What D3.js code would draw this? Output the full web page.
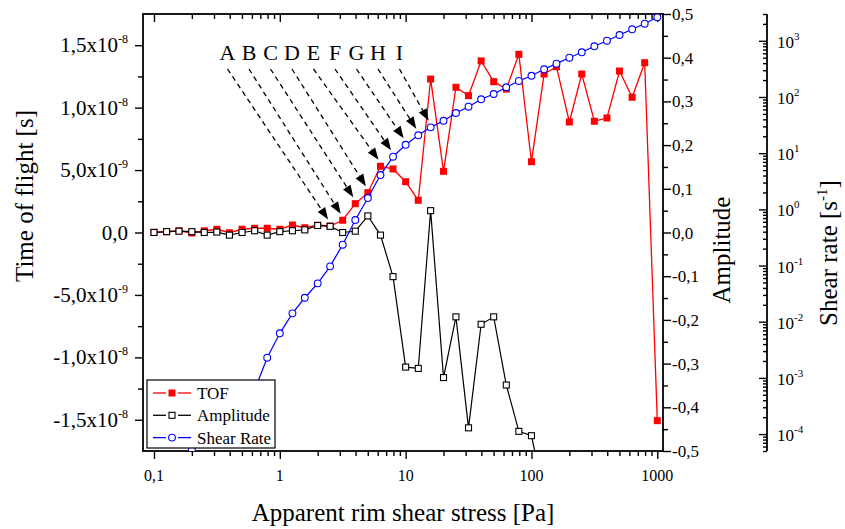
<!DOCTYPE html>
<html><head><meta charset="utf-8">
<script src="https://cdn.jsdelivr.net/npm/d3@7"></script>
<style>
body{margin:0;background:#fff}
svg{display:block}
svg text{font-family:"Liberation Serif","Times New Roman",Times,serif;fill:#000}
</style>
</head><body>
<svg id="chart" width="845" height="529" font-family="Liberation Serif, Times New Roman, serif"></svg>
<script>
// ---------------- data ----------------
const stress = [0.1,0.126,0.158,0.2,0.251,0.316,0.398,0.501,0.631,0.794,
  1,1.26,1.58,2,2.51,3.16,3.98,5.01,6.31,7.94,
  10,12.6,15.8,20,25.1,31.6,39.8,50.1,63.1,79.4,
  100,126,158,200,251,316,398,501,631,794,1000];
// time of flight in ns
const tofNs = [0.02,0.06,0.14,-0.04,0.14,0.26,-0.02,0.26,0.34,0.34,
  0.26,0.60,0.38,0.58,0.52,0.98,2.31,3.19,5.30,5.09,
  4.07,2.58,12.29,4.90,11.63,10.96,13.74,12.08,11.49,14.27,
  5.67,12.69,13.28,8.85,12.69,8.91,9.17,12.93,10.83,13.60,-15.07];
const amplitude = [0.000,0.002,0.003,0.002,0.000,0.001,-0.006,0.000,0.004,-0.006,
  0.002,0.004,0.006,0.016,0.014,0.000,0.003,0.038,-0.006,-0.101,
  -0.308,-0.311,0.050,-0.332,-0.193,-0.447,-0.210,-0.193,-0.349,-0.455,
  -0.465,-0.60];
const shearRate = [null,null,null,5.2e-5,7.8e-5,1.28e-4,2.10e-4,3.57e-4,6.08e-4,2.29e-3,
  6.22e-3,0.0141,0.0267,0.0482,0.0968,0.235,0.646,1.59,4.08,8.65,
  14.1,20.8,28.8,37.8,51.9,67.1,91.0,113,149,193,
  239,311,392,500,624,798,1005,1268,1603,2014,2618];

const xTickValues = [0.1,1,10,100,1000];
const xTickLabels = ["0,1","1","10","100","1000"];
const tofTicks = [-1.5e-8,-1.0e-8,-5e-9,0,5e-9,1.0e-8,1.5e-8];
const tofMinor = [-1.25e-8,-7.5e-9,-2.5e-9,2.5e-9,7.5e-9,1.25e-8];
const ampTicks = [-0.5,-0.4,-0.3,-0.2,-0.1,0,0.1,0.2,0.3,0.4,0.5];
const ampMinor = [-0.45,-0.35,-0.25,-0.15,-0.05,0.05,0.15,0.25,0.35,0.45];
const shearTicks = [1e-4,1e-3,1e-2,1e-1,1,10,100,1000];
const shearExp = ["-4","-3","-2","-1","0","1","2","3"];

const arrowLabels = ["A","B","C","D","E","F","G","H","I"];
const arrowTargetIdx = [14,15,16,17,18,19,20,21,22];
const arrowTargetSeries = ["tof","tof","tof","tof","tof","shear","shear","shear","shear"];

const legendNames = ["TOF","Amplitude","Shear Rate"];

// ---------------- layout ----------------
const FONT = "Liberation Serif, Times New Roman, serif";
const M = {left:143, right:663, top:14, bottom:451};
const shearAxisX = 767;
const RED = "#ff0000", BLUE = "#0000ff", BLACK = "#000";

const svg = d3.select("#chart");
const x = d3.scaleLog().domain([0.0818,1110]).range([M.left,M.right]);
const yT = d3.scaleLinear().domain([-1.75e-8,1.75e-8]).range([M.bottom,M.top]);
const yA = d3.scaleLinear().domain([-0.5,0.5]).range([M.bottom,M.top]);
const yS = d3.scaleLog().domain([5e-5,3000]).range([M.bottom,M.top]);

// minor ticks for log axes
const xMinor = [];
[0.1,1,10,100].forEach(d=>{for(let k=2;k<=9;k++) xMinor.push(d*k);});
const sMinor = [];
[1e-5,1e-4,1e-3,1e-2,1e-1,1,10,100,1000].forEach(d=>{for(let k=2;k<=9;k++){const v=d*k; if(v>=yS.domain()[0]&&v<=yS.domain()[1]) sMinor.push(v);}});

function styleAxis(g){
  g.select(".domain").remove();
  g.selectAll(".tick line").attr("stroke","#000").attr("stroke-width",1.4);
  g.selectAll(".tick text").remove();
}

// bottom axis
svg.append("g").attr("transform",`translate(0,${M.bottom})`)
  .call(d3.axisBottom(x).tickValues(xTickValues).tickSize(8)).call(styleAxis);
svg.append("g").attr("transform",`translate(0,${M.bottom})`)
  .call(d3.axisBottom(x).tickValues(xMinor).tickSize(5)).call(styleAxis);
// top axis (inward)
svg.append("g").attr("transform",`translate(0,${M.top})`)
  .call(d3.axisTop(x).tickValues(xTickValues).tickSize(-8)).call(styleAxis);
svg.append("g").attr("transform",`translate(0,${M.top})`)
  .call(d3.axisTop(x).tickValues(xMinor).tickSize(-5)).call(styleAxis);
// left axis
svg.append("g").attr("transform",`translate(${M.left},0)`)
  .call(d3.axisLeft(yT).tickValues(tofTicks).tickSize(8)).call(styleAxis);
svg.append("g").attr("transform",`translate(${M.left},0)`)
  .call(d3.axisLeft(yT).tickValues(tofMinor).tickSize(5)).call(styleAxis);
// right amplitude axis
svg.append("g").attr("transform",`translate(${M.right},0)`)
  .call(d3.axisRight(yA).tickValues(ampTicks).tickSize(8)).call(styleAxis);
svg.append("g").attr("transform",`translate(${M.right},0)`)
  .call(d3.axisRight(yA).tickValues(ampMinor).tickSize(5)).call(styleAxis);
// shear rate axis
svg.append("g").attr("transform",`translate(${shearAxisX},0)`)
  .call(d3.axisLeft(yS).tickValues(shearTicks).tickSize(8)).call(styleAxis);
svg.append("g").attr("transform",`translate(${shearAxisX},0)`)
  .call(d3.axisLeft(yS).tickValues(sMinor).tickSize(4)).call(styleAxis);
svg.append("line").attr("x1",shearAxisX).attr("x2",shearAxisX)
  .attr("y1",M.top).attr("y2",M.bottom).attr("stroke","#000").attr("stroke-width",1.8);

// frame
svg.append("rect").attr("x",M.left).attr("y",M.top)
  .attr("width",M.right-M.left).attr("height",M.bottom-M.top)
  .attr("fill","none").attr("stroke","#000").attr("stroke-width",1.8);

// tick labels
svg.append("g").selectAll("text").data(xTickValues).join("text")
  .attr("font-family",FONT)
  .attr("x",d=>x(d)).attr("y",M.bottom+30).attr("text-anchor","middle")
  .attr("font-size",16).text((d,i)=>xTickLabels[i]);

const tofLab = svg.append("g").selectAll("text").data(tofTicks).join("text")
  .attr("font-family",FONT)
  .attr("x",M.left-15).attr("y",d=>yT(d)+7).attr("text-anchor","end").attr("font-size",21);
tofLab.each(function(d){
  const t = d3.select(this);
  if(d===0){t.text("0,0");return;}
  const e = Math.floor(Math.log10(Math.abs(d))+1e-9);
  const m = Math.abs(d)/Math.pow(10,e);
  t.append("tspan").text((d<0?"-":"")+m.toFixed(1).replace(".",",")+"x10");
  t.append("tspan").attr("dy",-9).attr("font-size",12).text(String(e));
});

svg.append("g").selectAll("text").data(ampTicks).join("text")
  .attr("font-family",FONT)
  .attr("x",M.right+9).attr("y",d=>yA(d)+6).attr("font-size",17)
  .text(d=>(d<-1e-9?"-":"")+Math.abs(d).toFixed(1).replace(".",","));

const sLab = svg.append("g").selectAll("text").data(shearTicks).join("text")
  .attr("font-family",FONT)
  .attr("x",shearAxisX+10).attr("y",d=>yS(d)+7).attr("font-size",17);
sLab.append("tspan").text("10");
sLab.append("tspan").attr("dy",-8).attr("font-size",11).text((d,i)=>shearExp[i]);

// axis titles
svg.append("text").attr("font-family",FONT).attr("x",(M.left+M.right)/2).attr("y",521).attr("text-anchor","middle")
  .attr("font-size",25).text("Apparent rim shear stress [Pa]");
svg.append("text").attr("font-family",FONT).attr("transform","translate(33,196) rotate(-90)").attr("text-anchor","middle")
  .attr("font-size",25).text("Time of flight [s]");
svg.append("text").attr("font-family",FONT).attr("transform","translate(730,250) rotate(-90)").attr("text-anchor","middle")
  .attr("font-size",25).text("Amplitude");
const st = svg.append("text").attr("font-family",FONT).attr("transform","translate(837,253) rotate(-90)").attr("text-anchor","middle")
  .attr("font-size",25);
st.append("tspan").text("Shear rate [s");
st.append("tspan").attr("dy",-10).attr("font-size",15).text("-1");
st.append("tspan").attr("dy",10).text("]");

// ---------------- series ----------------
svg.append("clipPath").attr("id","plotclip").append("rect")
  .attr("x",M.left).attr("y",M.top).attr("width",M.right-M.left).attr("height",M.bottom-M.top);
const plot = svg.append("g").attr("clip-path","url(#plotclip)");

const tofData = stress.map((s,i)=>({s, v: tofNs[i]*1e-9}));
const ampData = amplitude.map((v,i)=>({s: stress[i], v}));
const shearData = stress.map((s,i)=>({s, v: shearRate[i]})).filter(d=>d.v!=null);

plot.append("path").datum(tofData).attr("fill","none").attr("stroke",RED).attr("stroke-width",1.3)
  .attr("d",d3.line().x(d=>x(d.s)).y(d=>yT(d.v)));
plot.append("g").selectAll("rect").data(tofData).join("rect")
  .attr("x",d=>x(d.s)-3.5).attr("y",d=>yT(d.v)-3.5).attr("width",7).attr("height",7).attr("fill",RED);

plot.append("path").datum(ampData).attr("fill","none").attr("stroke",BLACK).attr("stroke-width",1.2)
  .attr("d",d3.line().x(d=>x(d.s)).y(d=>yA(d.v)));
plot.append("g").selectAll("rect").data(ampData).join("rect")
  .attr("x",d=>x(d.s)-3).attr("y",d=>yA(d.v)-3).attr("width",6).attr("height",6)
  .attr("fill","#fff").attr("stroke",BLACK).attr("stroke-width",1.1);

plot.append("path").datum(shearData).attr("fill","none").attr("stroke",BLUE).attr("stroke-width",1.2)
  .attr("d",d3.line().x(d=>x(d.s)).y(d=>yS(d.v)));
plot.append("g").selectAll("circle").data(shearData).join("circle")
  .attr("cx",d=>x(d.s)).attr("cy",d=>yS(d.v)).attr("r",3.4)
  .attr("fill","#fff").attr("stroke",BLUE).attr("stroke-width",1.1);

// ---------------- annotation letters + arrows ----------------
const ann = svg.append("g");
arrowLabels.forEach((lab,k)=>{
  const lx = 227.5 + k*21.5;
  ann.append("text").attr("font-family",FONT).attr("x",lx).attr("y",59.5).attr("text-anchor","middle")
    .attr("font-size",22).text(lab);
  const idx = arrowTargetIdx[k];
  const px = x(stress[idx]);
  const py = arrowTargetSeries[k]==="tof" ? yT(tofNs[idx]*1e-9) : yS(shearRate[idx]);
  const tx = px-2, ty = py-6.5;
  const sx = lx, sy = 69;
  const dx = tx-sx, dy = ty-sy, L = Math.hypot(dx,dy);
  const ux = dx/L, uy = dy/L;
  const hl = 12, hw = 4.5;
  const bx = tx-ux*hl, by = ty-uy*hl;
  ann.append("line").attr("x1",sx).attr("y1",sy).attr("x2",bx).attr("y2",by)
    .attr("stroke","#000").attr("stroke-width",1.3).attr("stroke-dasharray","5,4");
  ann.append("path").attr("d",`M${tx},${ty}L${bx-uy*hw},${by+ux*hw}L${bx+uy*hw},${by-ux*hw}Z`)
    .attr("fill","#000");
});

// ---------------- legend ----------------
const lg = svg.append("g");
lg.append("rect").attr("x",147).attr("y",380).attr("width",128).attr("height",68)
  .attr("fill","#fff").attr("stroke","#000").attr("stroke-width",1.2);
const legColors = [RED,BLACK,BLUE];
legendNames.forEach((name,i)=>{
  const cy = 393 + i*22.3;
  const c = legColors[i];
  lg.append("line").attr("x1",153).attr("x2",166).attr("y1",cy).attr("y2",cy).attr("stroke",c).attr("stroke-width",1.3);
  lg.append("line").attr("x1",178).attr("x2",191).attr("y1",cy).attr("y2",cy).attr("stroke",c).attr("stroke-width",1.3);
  if(i===0) lg.append("rect").attr("x",168.5).attr("y",cy-3.5).attr("width",7).attr("height",7).attr("fill",RED);
  if(i===1) lg.append("rect").attr("x",169).attr("y",cy-3).attr("width",6).attr("height",6).attr("fill","#fff").attr("stroke",BLACK).attr("stroke-width",1.1);
  if(i===2) lg.append("circle").attr("cx",172).attr("cy",cy).attr("r",3.4).attr("fill","#fff").attr("stroke",BLUE).attr("stroke-width",1.1);
  lg.append("text").attr("font-family",FONT).attr("x",197).attr("y",cy+6).attr("font-size",17).text(name);
});
</script>
</body></html>
